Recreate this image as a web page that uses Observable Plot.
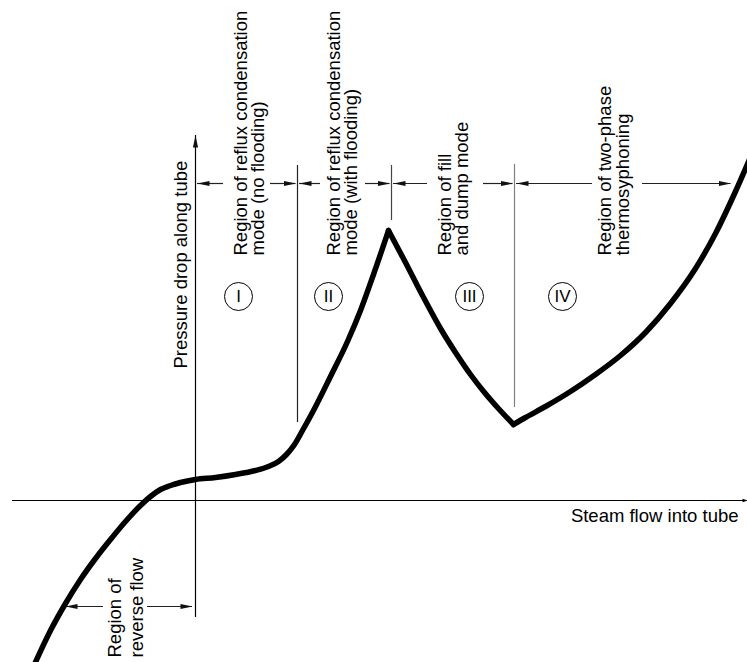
<!DOCTYPE html>
<html>
<head>
<meta charset="utf-8">
<script src="https://cdn.jsdelivr.net/npm/d3@7"></script>
<script src="https://cdn.jsdelivr.net/npm/@observablehq/plot@0.6"></script>
<style>
  html, body { margin: 0; padding: 0; background: #fff; }
  #chart { width: 747px; height: 662px; }
  svg { display: block; }
</style>
</head>
<body>
<div id="chart"></div>
<script>
// ---- Curve (schematic units: steam flow vs. pressure drop) ----
const steamFlow = [
  -16.2, -14.5, -13.0, -11.5, -10.0, -8.5, -7.0, -5.5, -4.5, -3.5, -2.5, -1.5, 0, 2.0, 4.0, 6.0, 7.3, 8.3, 9.1, 9.9, 10.7, 11.8, 13.5, 15.2, 16.5, 17.8, 19.3,
  19.3, 21.0, 22.7, 24.5, 26.0, 27.5, 28.9, 30.2, 31.8,
  31.8, 33.0, 35.0, 37.5, 40.0, 42.5, 45.0, 47.5, 50.0, 52.0, 54.0, 55.7
];
const pressureDrop = [
  -16.6, -13.0, -10.3, -7.9, -5.8, -3.9, -2.1, -0.5, 0.4, 1.1, 1.5, 1.8, 2.1, 2.3, 2.6, 3.0, 3.4, 3.9, 4.6, 5.6, 7.0, 9.0, 12.4, 15.9, 19.0, 22.6, 27.0,
  27.0, 23.8, 20.5, 17.2, 14.8, 12.6, 10.8, 9.3, 7.6,
  7.6, 8.3, 9.4, 10.9, 12.6, 14.5, 16.8, 19.7, 23.2, 26.7, 30.9, 34.8
];
const curveBranch = [
  ...Array(27).fill("rise"),
  ...Array(9).fill("fall"),
  ...Array(12).fill("thermo")
];

// ---- Axes extents ----
const xAxisExtent = [-18.3, 55.0];
const yAxisExtent = [-11.7, 36.5];
const xAxisLabel = "Steam flow into tube";
const yAxisLabel = "Pressure drop along tube";

// ---- Region boundaries & dimension arrows ----
const regionBounds = [0, 10.2, 19.6, 31.9, 53.7];
const regionGapStart = [2.8, 12.5, 23.2, 39.7];
const regionGapEnd = [7.5, 17.0, 28.8, 44.7];
const dimLevel = 31.7;
const boundaryX = [10.2, 19.6, 31.9];
const boundaryBottom = [7.8, 28.0, 9.3];
const boundaryTop = [33.5, 33.5, 33.6];
const boundaryColor = ["#222", "#444", "#808080"];

const regionLabels = [
  "Region of reflux condensation\nmode (no flooding)",
  "Region of reflux condensation\nmode (with flooding)",
  "Region of fill\nand dump mode",
  "Region of two-phase\nthermosyphoning"
];
const regionLabelX = [6.85, 16.15, 27.25, 43.3];
const regionLabelY = 24.5;
const numerals = ["I", "II", "III", "IV"];
const numeralX = [4.3, 13.3, 27.4, 36.7];
const numeralY = 20.4;

// reverse flow
const reverseLabel = "Region of\nreverse flow";
const reverseLevel = -10.6;
const reverseTips = [-13.0, -0.3];
const reverseGap = [-9.2, -4.8];

// ---- derived tables ----
const curve = steamFlow.map((x, i) => ({x, y: pressureDrop[i], b: curveBranch[i]}));

const dimSegments = [];
const tips = [];
for (let i = 0; i < 4; i++) {
  const L = regionBounds[i] + 0.2, R = regionBounds[i + 1] - 0.15;
  dimSegments.push({x1: L, x2: regionGapStart[i], y: dimLevel});
  dimSegments.push({x1: regionGapEnd[i], x2: R, y: dimLevel});
  tips.push({x: L, y: dimLevel, a: -90});
  tips.push({x: R, y: dimLevel, a: 90});
}
dimSegments.push({x1: reverseTips[0], x2: reverseGap[0], y: reverseLevel});
dimSegments.push({x1: reverseGap[1], x2: reverseTips[1], y: reverseLevel});
tips.push({x: reverseTips[0], y: reverseLevel, a: -90});
tips.push({x: reverseTips[1], y: reverseLevel, a: 90});
tips.push({x: 0, y: yAxisExtent[1], a: 0});
const xAxisTip = [{x: xAxisExtent[1] + 0.2, y: 0, a: 90}];

const boundaries = boundaryX.map((x, i) => ({x, y1: boundaryBottom[i], y2: boundaryTop[i], c: boundaryColor[i]}));
const labels = regionLabels.map((t, i) => ({t, x: regionLabelX[i], y: regionLabelY}));
const circles = numerals.map((t, i) => ({t, x: numeralX[i], y: numeralY}));

// narrow filled arrowheads with the tip at the anchor point (pointing up before rotation)
const arrowHead = {
  draw(ctx) {
    ctx.moveTo(0, 0);
    ctx.lineTo(-2.6, 12);
    ctx.lineTo(2.6, 12);
    ctx.closePath();
  }
};
const smallHead = {
  draw(ctx) {
    ctx.moveTo(0, 0);
    ctx.lineTo(-1.8, 5);
    ctx.lineTo(1.8, 5);
    ctx.closePath();
  }
};

const font = "Liberation Sans, Arial, Helvetica, sans-serif";

const chart = Plot.plot({
  width: 747,
  height: 662,
  margin: 0,
  style: {fontFamily: font, background: "#fff", color: "#000"},
  x: {domain: [-19.5, 55.2], axis: null},
  y: {domain: [-16.2, 50], axis: null},
  marks: [
    // axes
    Plot.ruleY([0], {x1: xAxisExtent[0], x2: xAxisExtent[1], stroke: "#000", strokeWidth: 1.2}),
    Plot.ruleX([0], {y1: yAxisExtent[0], y2: yAxisExtent[1], stroke: "#000", strokeWidth: 1.2}),
    Plot.dot(xAxisTip, {x: "x", y: "y", rotate: "a", symbol: smallHead, fill: "#000", stroke: "none"}),
    // boundaries
    Plot.ruleX(boundaries, {x: "x", y1: "y1", y2: "y2", stroke: "c", strokeWidth: 1.2}),
    // dimension lines
    Plot.ruleY(dimSegments, {x1: "x1", x2: "x2", y: "y", stroke: "#222", strokeWidth: 1.2}),
    Plot.dot(tips, {x: "x", y: "y", rotate: "a", symbol: arrowHead, fill: "#111", stroke: "none"}),
    // curve
    Plot.line(curve, {x: "x", y: "y", z: "b", curve: "monotone-x", stroke: "#000", strokeWidth: 5.5, strokeLinejoin: "round", strokeLinecap: "round"}),
    // circled numerals
    Plot.dot(circles, {x: "x", y: "y", r: 14, stroke: "#000", strokeWidth: 1, fill: "none"}),
    Plot.text(circles, {x: "x", y: "y", text: "t", fontSize: 17, fill: "#000"}),
    // region labels
    Plot.text(labels, {x: "x", y: "y", text: "t", rotate: -90, textAnchor: "start", lineAnchor: "bottom", lineHeight: 0.93, fontSize: 18.5, fill: "#000"}),
    Plot.text([reverseLabel], {x: -5.23, y: -15.7, text: d => d, rotate: -90, textAnchor: "start", lineAnchor: "bottom", lineHeight: 1.19, fontSize: 18.5, fill: "#000"}),
    // axis labels
    Plot.text([yAxisLabel], {x: -0.9, y: 13.2, text: d => d, rotate: -90, textAnchor: "start", lineAnchor: "bottom", fontSize: 18.5, fill: "#000"}),
    Plot.text([xAxisLabel], {x: 54.3, y: -2.1, text: d => d, textAnchor: "end", lineAnchor: "bottom", fontSize: 18.5, fill: "#000"})
  ]
});
document.getElementById("chart").appendChild(chart);
</script>
</body>
</html>
